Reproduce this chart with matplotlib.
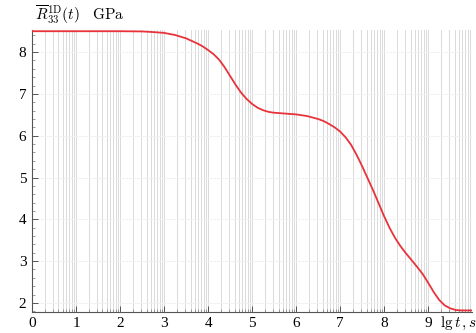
import matplotlib
matplotlib.use("Agg")
import matplotlib.pyplot as plt
import numpy as np

# lg t (s) and relaxation modulus (GPa)
lgt = [0, 1, 2, 2.5, 2.75, 3, 3.25, 3.5, 3.75, 3.875, 4, 4.125, 4.25, 4.375,
       4.5, 4.625, 4.75, 4.875, 5, 5.125, 5.25, 5.375, 5.5, 5.75, 6, 6.25,
       6.5, 6.625, 6.75, 6.875, 7, 7.125, 7.25, 7.375, 7.5, 7.625, 7.75,
       7.875, 8, 8.125, 8.25, 8.375, 8.5, 8.625, 8.75, 8.875, 9, 9.125,
       9.25, 9.375, 9.5, 9.625, 9.75, 10]
R33 = [8.5, 8.5, 8.5, 8.495, 8.48, 8.46, 8.41, 8.33, 8.21, 8.14, 8.05, 7.95,
       7.82, 7.64, 7.43, 7.22, 7.03, 6.88, 6.76, 6.67, 6.61, 6.57, 6.55, 6.53,
       6.51, 6.47, 6.4, 6.35, 6.28, 6.2, 6.1, 5.96, 5.78, 5.54, 5.27, 4.98,
       4.69, 4.38, 4.07, 3.79, 3.55, 3.35, 3.18, 3.02, 2.86, 2.69, 2.48, 2.26,
       2.07, 1.94, 1.87, 1.83, 1.82, 1.82]

xticks = [0, 1, 2, 3, 4, 5, 6, 7, 8, 9]
yticks = [2, 3, 4, 5, 6, 7, 8]

plt.rcParams['font.family'] = ['Liberation Serif', 'DejaVu Serif']
plt.rcParams['mathtext.fontset'] = 'cm'
plt.rcParams['font.size'] = 11

fig = plt.figure(figsize=(4.77, 3.33), dpi=100)
ax = fig.add_axes([0.067, 0.064, 0.923, 0.846])

# log-decade vertical grid
minor_x = [i + np.log10(k) for i in range(10) for k in range(2, 10)]
for xv in minor_x + xticks[1:]:
    ax.axvline(xv, color="#d4d4d4", lw=0.6, zorder=0)
for yv in yticks:
    ax.axhline(yv, color="#f0f0f0", lw=0.6, zorder=0)

ax.plot(lgt, R33, color="#e8333a", lw=1.3, zorder=3)

ax.set_xlim(0, 10)
ax.set_ylim(1.79, 8.53)
ax.set_xticks(xticks)
ax.set_yticks(yticks)
ax.set_xticks(minor_x, minor=True)
ax.set_yticks(np.arange(1.8, 8.6, 0.2), minor=True)
ax.tick_params(direction="in", length=4, width=0.7, color="#555555", pad=4)
ax.tick_params(which="minor", direction="in", length=2, width=0.5, color="#777777")

for s in ["top", "right"]:
    ax.spines[s].set_visible(False)
for s in ["left", "bottom"]:
    ax.spines[s].set_color("#555555")
    ax.spines[s].set_linewidth(0.8)

fig.text(0.073, 0.955, r"$\overline{R}_{33}^{\mathrm{1D}}(t)\quad\mathrm{GPa}$",
         fontsize=11, va="center", ha="left")
ax.text(9.7, -0.04, r"$\mathrm{lg}\,t\,,s$", transform=ax.get_xaxis_transform(),
        fontsize=11, ha="center", va="center")

fig.savefig("out.png", dpi=100)
